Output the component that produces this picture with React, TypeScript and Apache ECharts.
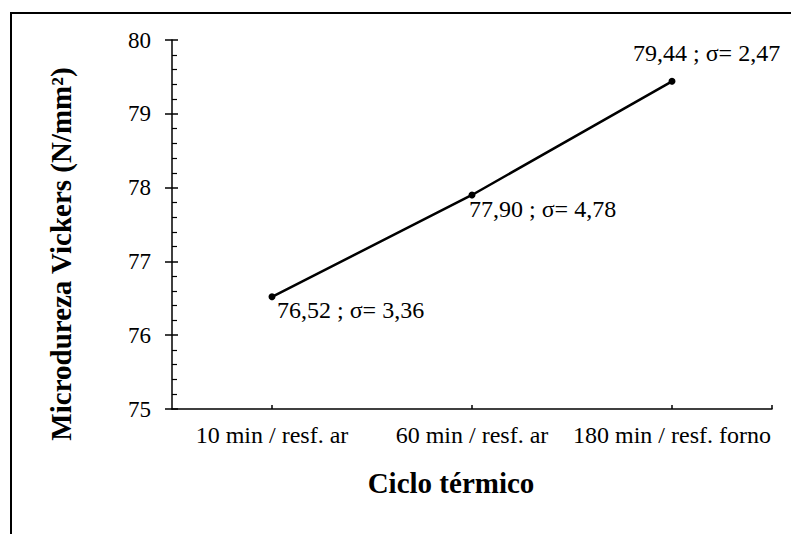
import React, { useEffect, useRef } from "react";
import * as echarts from "echarts";

const categories = ["10 min / resf. ar", "60 min / resf. ar", "180 min / resf. forno"];
const hardness = [76.52, 77.9, 79.44];
const sigma = ["3,36", "4,78", "2,47"];
const yTicks = { min: 75, max: 80, interval: 1 };
const xTitle = "Ciclo térmico";
const yTitle = "Microdureza Vickers (N/mm²)";

const SERIF = "Liberation Serif";

export default function App() {
  const ref = useRef<HTMLDivElement>(null);
  useEffect(() => {
    if (!ref.current) return;
    const chart = echarts.init(ref.current, undefined, { renderer: "svg" });
    const labelOffsets: [number, number][] = [
      [1.5, 13],
      [-6.5, 14],
      [-42.5, -28],
    ];
    chart.setOption({
      animation: false,
      backgroundColor: "#ffffff",
      textStyle: { fontFamily: SERIF },
      grid: { left: 172, top: 40, right: 19, bottom: 125, containLabel: false },
      xAxis: [
        {
          type: "category",
          data: categories,
          boundaryGap: true,
          axisLine: { lineStyle: { color: "#000", width: 1.5 } },
          axisTick: { show: true, alignWithLabel: true, inside: true, length: 4, lineStyle: { color: "#000", width: 1.5 } },
          axisLabel: { color: "#000", fontFamily: SERIF, fontSize: 24, margin: 14, interval: 0, hideOverlap: false },
          splitLine: { show: false },
        },
        {
          type: "value",
          position: "bottom",
          min: 0,
          max: 3,
          axisLine: { show: false },
          axisTick: { show: true, inside: true, length: 4, customValues: [3], lineStyle: { color: "#000", width: 1.5 } },
          axisLabel: { show: false },
          splitLine: { show: false },
        },
      ],
      yAxis: [
        {
          type: "value",
          min: yTicks.min,
          max: yTicks.max,
          interval: yTicks.interval,
          axisLine: { show: true, lineStyle: { color: "#000", width: 1.5 } },
          axisTick: { show: true, inside: false, length: 7, lineStyle: { color: "#000", width: 1.5 } },
          axisLabel: { color: "#000", fontFamily: SERIF, fontSize: 23, margin: 21 },
          splitLine: { show: false },
        },
        {
          type: "value",
          position: "left",
          min: yTicks.min,
          max: yTicks.max,
          interval: yTicks.interval,
          axisLine: { show: false },
          axisTick: { show: true, inside: true, length: 6, lineStyle: { color: "#000", width: 1.5 } },
          minorTick: { show: true, splitNumber: 5, length: 5, lineStyle: { color: "#000", width: 1.2 } },
          axisLabel: { show: false },
          splitLine: { show: false },
          minorSplitLine: { show: false },
        },
      ],
      series: [
        {
          type: "line",
          xAxisIndex: 0,
          yAxisIndex: 0,
          data: hardness.map((v, i) => ({
            value: v,
            label: {
              show: true,
              position: "right",
              distance: 0,
              offset: labelOffsets[i],
              formatter: () => `${v.toFixed(2).replace(".", ",")} ; σ= ${sigma[i]}`,
            },
          })),
          symbol: "circle",
          symbolSize: 7,
          lineStyle: { color: "#000", width: 2.5 },
          itemStyle: { color: "#000" },
          label: { color: "#000", fontFamily: SERIF, fontSize: 24, align: "left", verticalAlign: "middle" },
        },
      ],
      graphic: [
        {
          type: "rect",
          shape: { x: 11, y: 13, width: 800, height: 600 },
          style: { fill: "none", stroke: "#000", lineWidth: 2 },
          silent: true,
        },
        {
          type: "text",
          x: 451,
          y: 483,
          style: { text: xTitle, font: `bold 29px ${SERIF}`, fill: "#000", align: "center", verticalAlign: "middle" },
        },
        {
          type: "text",
          x: 61,
          y: 254,
          rotation: Math.PI / 2,
          style: { text: yTitle, font: `bold 29px ${SERIF}`, fill: "#000", align: "center", verticalAlign: "middle" },
        },
      ],
    });
    return () => chart.dispose();
  }, []);
  return <div ref={ref} style={{ position: "fixed", left: 0, top: 0, width: 791, height: 534 }} />;
}
